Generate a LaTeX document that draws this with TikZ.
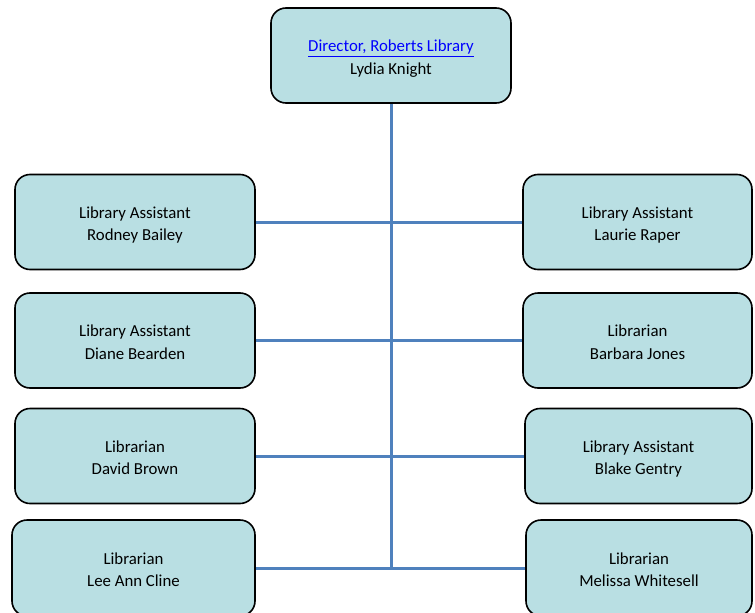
\documentclass[tikz,border=0pt]{standalone}
\usepackage{fontspec}
\setmainfont{Carlito}
\usetikzlibrary{backgrounds}
\definecolor{boxfill}{RGB}{185,223,227}
\definecolor{linkblue}{RGB}{0,0,255}
\definecolor{linkline}{RGB}{79,129,189}
% two centred lines, set a little below the box centre
\newcommand{\roleandname}[2]{\raisebox{-3pt}[\height][\depth]{\begin{tabular}{@{}c@{}}#1\\#2\end{tabular}}}
\begin{document}
\begin{tikzpicture}[x=1pt,y=-1pt,
  orgbox/.style={draw=black, line width=1.6pt, fill=boxfill, rounded corners=15pt,
    minimum height=95pt, inner sep=0pt,
    font=\fontsize{16.8}{22.5}\selectfont},
  link/.style={draw=linkline, line width=3pt}]
\useasboundingbox (0,0) rectangle (755,613);
\clip (0,0) rectangle (755,613);
% director
\node[orgbox, minimum width=240pt] (dir) at (391,55.5)
  {\roleandname{\textcolor{linkblue}{\underline{Director, Roberts Library}}}{Lydia Knight}};
% left column
\node[orgbox, minimum width=240pt] (l1) at (135,222) {\roleandname{Library Assistant}{Rodney Bailey}};
\node[orgbox, minimum width=240pt] (l2) at (135,340.5) {\roleandname{Library Assistant}{Diane Bearden}};
\node[orgbox, minimum width=240pt] (l3) at (135,456) {\roleandname{Librarian}{David Brown}};
\node[orgbox, minimum width=243pt, minimum height=96pt] (l4) at (133.5,568) {\roleandname{Librarian}{Lee Ann Cline}};
% right column
\node[orgbox, minimum width=229pt] (r1) at (637.5,222) {\roleandname{Library Assistant}{Laurie Raper}};
\node[orgbox, minimum width=229pt] (r2) at (637.5,340.5) {\roleandname{Librarian}{Barbara Jones}};
\node[orgbox, minimum width=227pt] (r3) at (638.5,456) {\roleandname{Library Assistant}{Blake Gentry}};
\node[orgbox, minimum width=226pt, minimum height=96pt] (r4) at (639,568) {\roleandname{Librarian}{Melissa Whitesell}};
\coordinate (trunk) at (391,567);
\begin{scope}[on background layer]
  \draw[link] (dir.south) -- (trunk);
  \draw[link] (l1.east) -- (r1.west);
  \draw[link] (l2.east) -- (r2.west);
  \draw[link] (l3.east) -- (r3.west);
  \draw[link] (l4.east) -- (r4.west);
\end{scope}
\end{tikzpicture}
\end{document}
